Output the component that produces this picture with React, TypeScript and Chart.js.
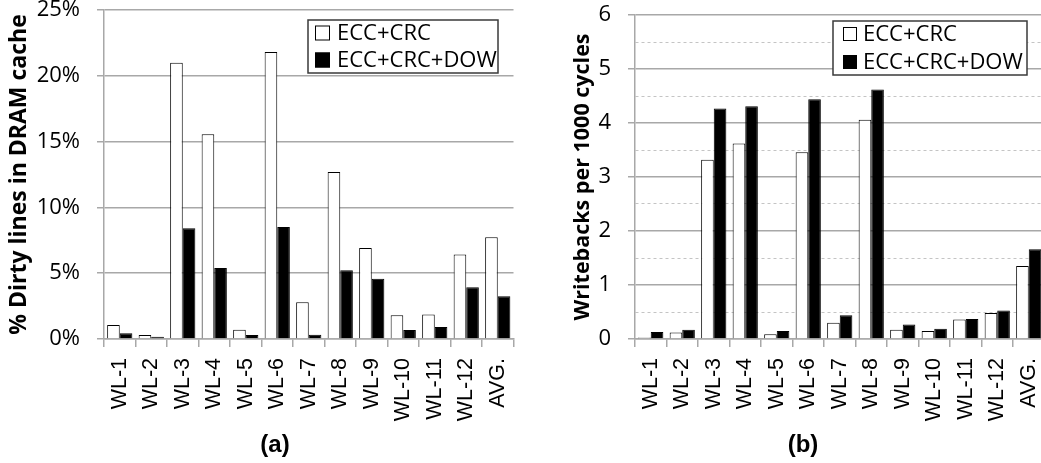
import React, { useEffect, useRef } from "react";
import { Chart, registerables } from "chart.js";

Chart.register(...registerables);

// Workload categories shared by both panels
const workloads = ["WL-1", "WL-2", "WL-3", "WL-4", "WL-5", "WL-6", "WL-7", "WL-8", "WL-9", "WL-10", "WL-11", "WL-12", "AVG."];
const seriesNames = ["ECC+CRC", "ECC+CRC+DOW"];

// Panel (a): % dirty lines in DRAM cache
const dirtyEccCrc = [1.06, 0.3, 21.0, 15.55, 0.71, 21.8, 2.79, 12.69, 6.91, 1.8, 1.87, 6.43, 7.73];
const dirtyEccCrcDow = [0.43, 0.18, 8.41, 5.4, 0.3, 8.51, 0.33, 5.22, 4.58, 0.68, 0.91, 3.93, 3.24];

// Panel (b): writebacks per 1000 cycles
const wbEccCrc = [0.03, 0.12, 3.32, 3.62, 0.09, 3.46, 0.3, 4.06, 0.17, 0.15, 0.36, 0.48, 1.35];
const wbEccCrcDow = [0.13, 0.17, 4.27, 4.31, 0.15, 4.44, 0.44, 4.62, 0.27, 0.19, 0.37, 0.53, 1.66];

const GRID = "#a8a8a8";
const MINOR_GRID = "#c4c4c4";
const TICK_FONT = "'Open Sans', sans-serif";
const CAT_FONT = "'Liberation Sans', Arial, sans-serif";

type Box = { x: number; y: number; w: number; h: number; rows: number[]; swatch: number; swatchX: number; textX: number; fontSize: number };

type PanelSpec = {
  width: number;
  yWidth: number;
  plotTop: number;
  plotBottom: number;
  plotRight: number;
  yMax: number;
  yStep: number;
  minor: boolean;
  tickSize: number;
  format: (v: number) => string;
  yTitle: string;
  yTitleSize: number;
  titlePad: number;
  caption: string;
  captionX: number;
  captionY: number;
  legend: Box;
  values: number[][];
};

function legendPlugin(box: Box) {
  return {
    id: "boxedLegend",
    afterDraw(chart: any) {
      const { ctx } = chart;
      ctx.save();
      ctx.fillStyle = "#ffffff";
      ctx.fillRect(box.x, box.y, box.w, box.h);
      ctx.strokeStyle = "#3a3a3a";
      ctx.lineWidth = 1.5;
      ctx.strokeRect(box.x, box.y, box.w, box.h);
      chart.data.datasets.forEach((ds: any, i: number) => {
        const cy = box.rows[i];
        const sx = box.x + box.swatchX;
        ctx.fillStyle = ds.backgroundColor;
        ctx.fillRect(sx, cy - box.swatch / 2, box.swatch, box.swatch);
        ctx.strokeStyle = "#000";
        ctx.lineWidth = 1;
        ctx.strokeRect(sx + 0.5, cy - box.swatch / 2 + 0.5, box.swatch - 1, box.swatch - 1);
        ctx.fillStyle = "#000";
        ctx.font = `${box.fontSize}px ${TICK_FONT}`;
        ctx.textAlign = "left";
        ctx.textBaseline = "middle";
        ctx.fillText(ds.label, box.x + box.textX, cy + 1);
      });
      ctx.restore();
    },
  };
}

function captionPlugin(text: string, x: number, y: number) {
  return {
    id: "panelCaption",
    afterDraw(chart: any) {
      const { ctx } = chart;
      ctx.save();
      ctx.fillStyle = "#000";
      ctx.font = `bold 24px ${CAT_FONT}`;
      ctx.textAlign = "center";
      ctx.textBaseline = "middle";
      ctx.fillText(text, x, y);
      ctx.restore();
    },
  };
}

function Panel({ spec, left }: { spec: PanelSpec; left: number }) {
  const ref = useRef<HTMLCanvasElement | null>(null);

  useEffect(() => {
    const canvas = ref.current;
    if (!canvas) return;
    const H = 463;
    const isMinor = (ctx: any) => spec.minor && ctx.tick && Math.abs(ctx.tick.value - Math.round(ctx.tick.value)) > 1e-6;

    const chart = new Chart(canvas, {
      type: "bar",
      data: {
        labels: workloads,
        datasets: seriesNames.map((name, i) => ({
          label: name,
          data: spec.values[i],
          backgroundColor: i === 0 ? "#ffffff" : "#000000",
          borderColor: "#000000",
          borderWidth: 1,
          categoryPercentage: 0.8,
          barPercentage: 1.0,
        })),
      },
      options: {
        animation: false,
        responsive: false,
        devicePixelRatio: 1,
        layout: { padding: { left: 0, top: spec.plotTop, right: spec.width - spec.plotRight, bottom: 0 } },
        plugins: { legend: { display: false }, tooltip: { enabled: false }, title: { display: false } },
        scales: {
          x: {
            grid: { display: true, drawOnChartArea: false, drawTicks: true, tickLength: 8, color: GRID, lineWidth: 1.5, offset: true },
            border: { display: true, color: GRID, width: 1.5 },
            ticks: {
              autoSkip: false,
              minRotation: 90,
              maxRotation: 90,
              padding: 11,
              color: "#000",
              font: { family: CAT_FONT, size: 21.5 },
            },
            afterFit: (s: any) => {
              s.height = H - spec.plotBottom;
              s.paddingLeft = 0;
              s.paddingRight = 0;
            },
          },
          y: {
            min: 0,
            max: spec.yMax,
            ticks: {
              stepSize: spec.yStep,
              autoSkip: false,
              padding: 17,
              color: "#000",
              font: { family: TICK_FONT, size: spec.tickSize },
              callback: (v: any) => {
                const n = Number(v);
                if (spec.minor && Math.abs(n - Math.round(n)) > 1e-6) return "";
                return spec.format(n);
              },
            },
            grid: {
              color: (ctx: any) => (isMinor(ctx) ? MINOR_GRID : GRID),
              lineWidth: (ctx: any) => (isMinor(ctx) ? 1 : 1.5),
              tickColor: (ctx: any) => (isMinor(ctx) ? "rgba(0,0,0,0)" : GRID),
              tickLength: 7,
              drawTicks: true,
            },
            border: {
              display: true,
              color: GRID,
              width: 1.5,
              dash: (ctx: any) => (isMinor(ctx) ? [3, 3] : []),
            },
            title: {
              display: true,
              text: spec.yTitle,
              color: "#000",
              font: { family: TICK_FONT, size: spec.yTitleSize, weight: "bold" },
              padding: { top: spec.titlePad, bottom: 0 },
            },
            afterFit: (s: any) => {
              s.width = spec.yWidth;
              s.paddingTop = 0;
              s.paddingBottom = 0;
            },
          },
        },
      },
      plugins: [legendPlugin(spec.legend), captionPlugin(spec.caption, spec.captionX, spec.captionY)],
    } as any);

    return () => chart.destroy();
  }, [spec]);

  return (
    <canvas
      ref={ref}
      width={spec.width}
      height={463}
      style={{ position: "absolute", left, top: 0, width: spec.width, height: 463 }}
    />
  );
}

const panelA: PanelSpec = {
  width: 520,
  yWidth: 104,
  plotTop: 10,
  plotBottom: 339,
  plotRight: 513.5,
  yMax: 25,
  yStep: 5,
  minor: false,
  tickSize: 22,
  format: (v) => `${v}%`,
  yTitle: "% Dirty lines in DRAM cache",
  yTitleSize: 23,
  titlePad: 6,
  caption: "(a)",
  captionX: 275,
  captionY: 445,
  legend: { x: 308, y: 20, w: 190, h: 53, rows: [33, 60], swatch: 15, swatchX: 7, textX: 29, fontSize: 22 },
  values: [dirtyEccCrc, dirtyEccCrcDow],
};

const panelB: PanelSpec = {
  width: 530,
  yWidth: 115,
  plotTop: 15,
  plotBottom: 339,
  plotRight: 524.5,
  yMax: 6,
  yStep: 0.5,
  minor: true,
  tickSize: 22,
  format: (v) => `${v}`,
  yTitle: "Writebacks per 1000 cycles",
  yTitleSize: 21.5,
  titlePad: 50,
  caption: "(b)",
  captionX: 283,
  captionY: 445,
  legend: { x: 313, y: 21, w: 194, h: 54, rows: [34, 62], swatch: 14, swatchX: 10, textX: 30, fontSize: 22 },
  values: [wbEccCrc, wbEccCrcDow],
};

export default function App() {
  return (
    <div
      style={{
        position: "fixed",
        left: 0,
        top: 0,
        width: 1041,
        height: 463,
        overflow: "hidden",
        background: "#ffffff",
      }}
    >
      <Panel spec={panelA} left={0} />
      <Panel spec={panelB} left={520} />
    </div>
  );
}
